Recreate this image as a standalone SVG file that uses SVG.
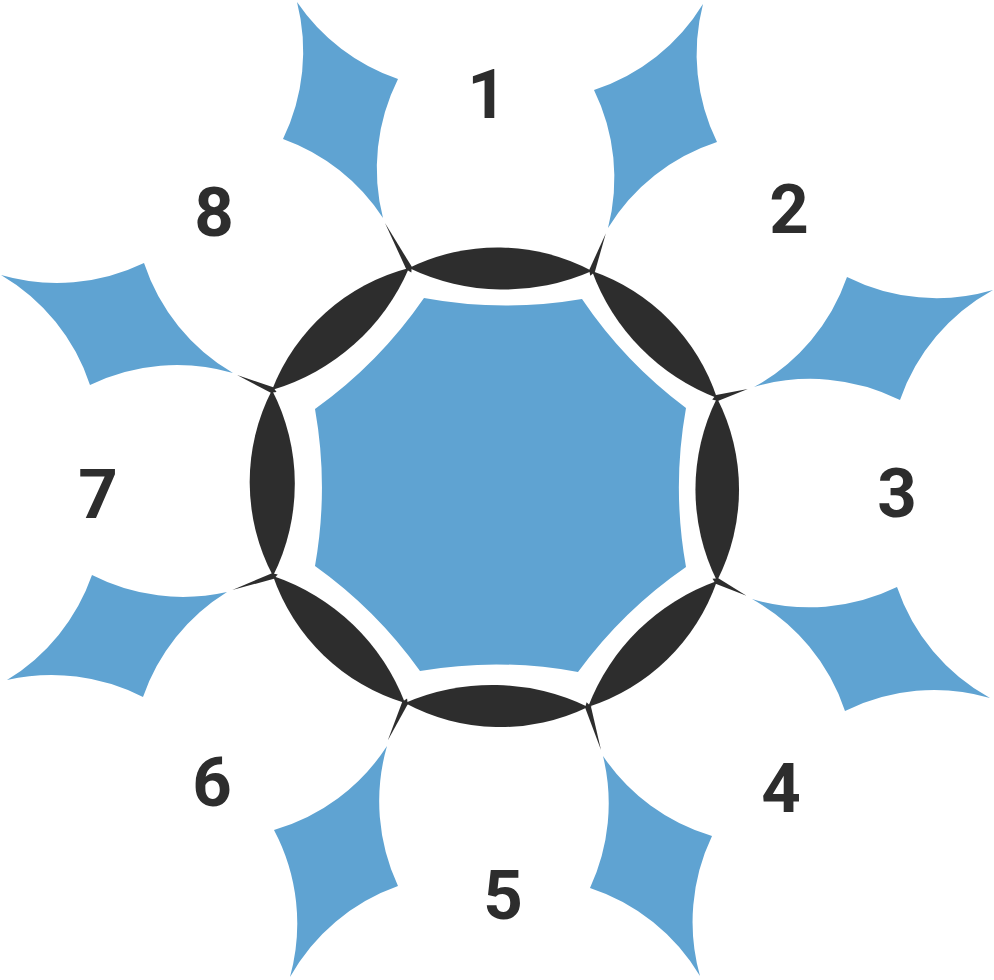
<svg xmlns="http://www.w3.org/2000/svg" width="994" height="980" viewBox="0 0 994 980">
<style>
.dark{fill:#2d2d2d}
.blue{fill:#5fa3d2}
.lbl{font-family:Roboto,"Liberation Sans",sans-serif;font-weight:700;font-size:69px;fill:#2d2d2d;text-anchor:middle}
</style>
<rect width="994" height="980" fill="#ffffff"/>
<g id="ring">
<path class="dark" d="M409 268 A201 201 0 0 1 592 271 A219 219 0 0 1 409 268 Z"/>
<path class="dark" d="M592 271 A201 201 0 0 1 717 398 A215 215 0 0 1 592 271 Z"/>
<path class="dark" d="M717 398 A201 201 0 0 1 717 581 A205 205 0 0 1 717 398 Z"/>
<path class="dark" d="M717 581 A201 201 0 0 1 588 707 A215 215 0 0 1 717 581 Z"/>
<path class="dark" d="M588 707 A201 201 0 0 1 405 703 A219 219 0 0 1 588 707 Z"/>
<path class="dark" d="M405 703 A201 201 0 0 1 273 576 A215 215 0 0 1 405 703 Z"/>
<path class="dark" d="M273 576 A201 201 0 0 1 272 390 A205 205 0 0 1 273 576 Z"/>
<path class="dark" d="M272 390 A201 201 0 0 1 409 268 A215 215 0 0 1 272 390 Z"/>
</g>
<g id="center">
<path class="blue" d="M424 298 A450 450 0 0 0 582 299 A450 450 0 0 0 686 408 A450 450 0 0 0 686 567 A450 450 0 0 0 578 672 A450 450 0 0 0 420 671 A450 450 0 0 0 315 566 A450 450 0 0 0 315 409 A450 450 0 0 0 424 298 Z"/>
</g>
<g id="connectors">
<path class="dark" transform="translate(409 268) rotate(-28.1)" d="M-3 0 L0 -51 L3 0 L0 5 Z"/>
<path class="dark" transform="translate(592 271) rotate(20.2)" d="M-3 0 L0 -40 L3 0 L0 5 Z"/>
<path class="dark" transform="translate(717 398) rotate(73.8)" d="M-3 0 L0 -32 L3 0 L0 5 Z"/>
<path class="dark" transform="translate(717 581) rotate(116.6)" d="M-3 0 L0 -33 L3 0 L0 5 Z"/>
<path class="dark" transform="translate(588 707) rotate(163.2)" d="M-3 0 L0 -45 L3 0 L0 5 Z"/>
<path class="dark" transform="translate(405 703) rotate(-155.3)" d="M-3 0 L0 -41 L3 0 L0 5 Z"/>
<path class="dark" transform="translate(273 576) rotate(-108.9)" d="M-3 0 L0 -43 L3 0 L0 5 Z"/>
<path class="dark" transform="translate(272 390) rotate(-66.8)" d="M-3 0 L0 -38 L3 0 L0 5 Z"/>
</g>
<g id="piece-8-1"><path class="blue" d="M297 2 A200 200 0 0 0 398 79 A200 200 0 0 0 383 218 A200 200 0 0 0 283 139 A200 200 0 0 0 297 2 Z"/></g>
<g id="piece-1-2"><path class="blue" d="M703 4 A200 200 0 0 0 717 142 A200 200 0 0 0 608 228 A200 200 0 0 0 594 90 A200 200 0 0 0 703 4 Z"/></g>
<g id="piece-2-3"><path class="blue" d="M847 277 A200 200 0 0 0 993 290 A200 200 0 0 0 900 400 A200 200 0 0 0 754 387 A200 200 0 0 0 847 277 Z"/></g>
<g id="piece-3-4"><path class="blue" d="M897 587 A200 200 0 0 0 990 698 A200 200 0 0 0 845 711 A200 200 0 0 0 752 599 A200 200 0 0 0 897 587 Z"/></g>
<g id="piece-4-5"><path class="blue" d="M603 756 A200 200 0 0 0 712 836 A200 200 0 0 0 700 976 A200 200 0 0 0 590 888 A200 200 0 0 0 603 756 Z"/></g>
<g id="piece-5-6"><path class="blue" d="M387 746 A200 200 0 0 0 398 886 A200 200 0 0 0 290 977 A200 200 0 0 0 274 830 A200 200 0 0 0 387 746 Z"/></g>
<g id="piece-6-7"><path class="blue" d="M92 575 A200 200 0 0 0 227 592 A200 200 0 0 0 143 697 A200 200 0 0 0 7 680 A200 200 0 0 0 92 575 Z"/></g>
<g id="piece-7-8"><path class="blue" d="M144 263 A200 200 0 0 0 233 373 A200 200 0 0 0 90 385 A200 200 0 0 0 1 275 A200 200 0 0 0 144 263 Z"/></g>
<g id="label-1"><text class="lbl" x="487" y="118">1</text></g>
<g id="label-2"><text class="lbl" x="789" y="233">2</text></g>
<g id="label-3"><text class="lbl" x="897" y="517">3</text></g>
<g id="label-4"><text class="lbl" x="781" y="812">4</text></g>
<g id="label-5"><text class="lbl" x="503" y="919">5</text></g>
<g id="label-6"><text class="lbl" x="212" y="806">6</text></g>
<g id="label-7"><text class="lbl" x="98" y="518">7</text></g>
<g id="label-8"><text class="lbl" x="214" y="236">8</text></g>
</svg>
